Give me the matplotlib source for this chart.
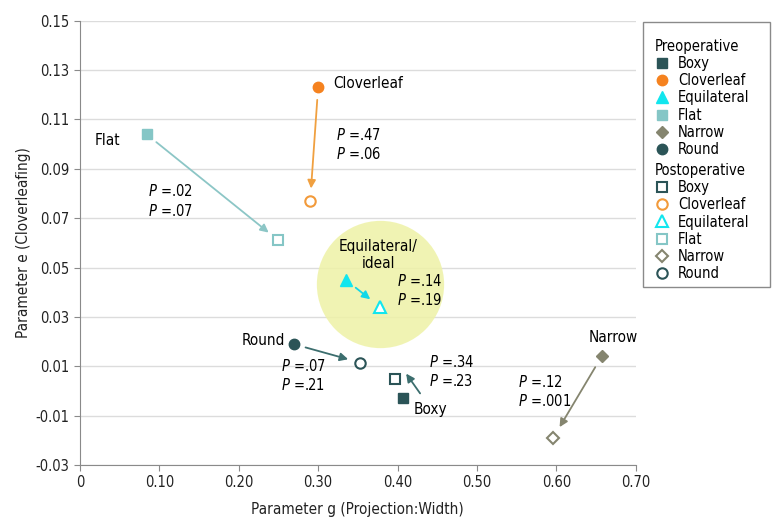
import matplotlib.pyplot as plt
from matplotlib.lines import Line2D
from matplotlib.patches import Rectangle
from matplotlib.transforms import offset_copy

plt.rcParams['font.family'] = ['DejaVu Sans']
plt.rcParams['font.stretch'] = 'condensed'
plt.rcParams['mathtext.fontset'] = 'custom'
plt.rcParams['mathtext.it'] = 'DejaVu Sans:style=oblique:stretch=condensed'
plt.rcParams['mathtext.rm'] = 'DejaVu Sans:stretch=condensed'

categories = ['Boxy', 'Cloverleaf', 'Equilateral', 'Flat', 'Narrow', 'Round']
pre_g = [0.407, 0.300, 0.335, 0.084, 0.657, 0.269]
pre_e = [-0.003, 0.123, 0.045, 0.104, 0.014, 0.019]
post_g = [0.397, 0.290, 0.378, 0.250, 0.596, 0.353]
post_e = [0.005, 0.077, 0.034, 0.061, -0.019, 0.0115]
p_pre = ['.34', '.47', '.14', '.02', '.12', '.07']
p_post = ['.23', '.06', '.19', '.07', '.001', '.21']

x_ticks = [0, 0.10, 0.20, 0.30, 0.40, 0.50, 0.60, 0.70]
x_ticklabels = ['0', '0.10', '0.20', '0.30', '0.40', '0.50', '0.60', '0.70']
y_ticks = [-0.03, -0.01, 0.01, 0.03, 0.05, 0.07, 0.09, 0.11, 0.13, 0.15]

colors = {'Boxy': '#2b5457', 'Cloverleaf': '#f5821f', 'Equilateral': '#12e6ee',
          'Flat': '#85c6c6', 'Narrow': '#85856f', 'Round': '#2b5457'}
post_colors = {'Boxy': '#2b5457', 'Cloverleaf': '#f29a3a', 'Equilateral': '#12e6ee',
               'Flat': '#85c6c6', 'Narrow': '#85856f', 'Round': '#2b5457'}
arrow_colors = {'Boxy': '#3c6e6e', 'Cloverleaf': '#f0a040', 'Equilateral': '#12d8e8',
                'Flat': '#8cc6c6', 'Narrow': '#85856f', 'Round': '#3c6e6e'}
markers = {'Boxy': 's', 'Cloverleaf': 'o', 'Equilateral': '^',
           'Flat': 's', 'Narrow': 'D', 'Round': 'o'}
sizes = {'s': 7.5, 'o': 7.5, '^': 8.5, 'D': 6.5}

# label placement (data coords) and alignment
name_pos = {'Boxy': (0.441, -0.0076, 'center'), 'Cloverleaf': (0.319, 0.1245, 'left'),
            'Flat': (0.035, 0.1013, 'center'), 'Narrow': (0.671, 0.0215, 'center'),
            'Round': (0.231, 0.0203, 'center')}
p_pos = {'Boxy': (0.4397, 0.0078), 'Cloverleaf': (0.323, 0.100),
         'Equilateral': (0.3995, 0.0406), 'Flat': (0.0854, 0.077),
         'Narrow': (0.5515, -0.0003), 'Round': (0.2538, 0.0062)}

fig = plt.figure(figsize=(7.83, 5.27), dpi=100)
ax = fig.add_axes([0.102, 0.1176, 0.71, 0.843])

# highlighted "ideal" zone
ax.scatter([0.378], [0.0434], s=8400, color='#eef2a6', alpha=0.85, zorder=1, linewidths=0)

for i, c in enumerate(categories):
    if c == 'Boxy':
        # short arrow drawn beside the markers, as in the original
        ax.annotate('', xy=(post_g[i], post_e[i]), xytext=(pre_g[i], pre_e[i]),
                    xycoords=offset_copy(ax.transData, fig, x=11, y=5, units='dots'),
                    textcoords=offset_copy(ax.transData, fig, x=17, y=5, units='dots'),
                    arrowprops=dict(arrowstyle='-|>', color=arrow_colors[c], lw=1.3,
                                    mutation_scale=12, shrinkA=0, shrinkB=0), zorder=3)
    else:
        ax.annotate('', xy=(post_g[i], post_e[i]), xytext=(pre_g[i], pre_e[i]),
                    arrowprops=dict(arrowstyle='-|>', color=arrow_colors[c], lw=1.3,
                                    mutation_scale=12, shrinkA=9, shrinkB=9), zorder=3)
    ms = sizes[markers[c]]
    ax.plot(pre_g[i], pre_e[i], marker=markers[c], ms=ms, color=colors[c],
            mec=colors[c], ls='none', zorder=4)
    ax.plot(post_g[i], post_e[i], marker=markers[c], ms=ms, mfc='white',
            mec=post_colors[c], mew=1.5, ls='none', zorder=4)
    px, py = p_pos[c]
    ax.text(px, py, '$P$ =' + p_pre[i] + '\n$P$ =' + p_post[i], fontsize=10.5,
            ha='left', va='center', linespacing=1.25, zorder=5)

for c, (nx, ny, ha) in name_pos.items():
    ax.text(nx, ny, c, fontsize=11, ha=ha, va='center', zorder=5)
ax.text(0.3756, 0.0551, 'Equilateral/\nideal', fontsize=11, ha='center',
        va='center', linespacing=1.15, zorder=5)

ax.set_xlim(0, 0.70)
ax.set_ylim(-0.03, 0.15)
ax.set_xticks(x_ticks)
ax.set_xticklabels(x_ticklabels)
ax.set_yticks(y_ticks)
ax.set_yticklabels(['%.2f' % v for v in y_ticks])
ax.yaxis.grid(True, color='#dcdcdc', lw=1)
ax.set_axisbelow(True)
for s in ['top', 'right']:
    ax.spines[s].set_visible(False)
for s in ['left', 'bottom']:
    ax.spines[s].set_color('#8a8a8a')
ax.tick_params(colors='#8a8a8a', labelcolor='#222222', labelsize=10.5, length=4)
ax.set_xlabel('Parameter g (Projection:Width)', fontsize=11, color='#222222', labelpad=8)
ax.set_ylabel('Parameter e (Cloverleafing)', fontsize=11, color='#222222', labelpad=3)

pre_handles = [Line2D([], [], marker=markers[c], ls='none', color=colors[c],
                      ms=sizes[markers[c]]) for c in categories]
post_handles = [Line2D([], [], marker=markers[c], ls='none', mfc='white',
                       mec=post_colors[c], mew=1.5,
                       ms=sizes[markers[c]]) for c in categories]

leg_kw = dict(frameon=False, fontsize=10.5, title_fontsize=10.5, alignment='left',
              handlelength=1.0, handletextpad=0.6, labelspacing=0.15,
              borderpad=0.2, loc='upper left')
leg1 = fig.legend(pre_handles, categories, title='Preoperative',
                  bbox_to_anchor=(0.823, 0.9455), **leg_kw)
leg2 = fig.legend(post_handles, categories, title='Postoperative',
                  bbox_to_anchor=(0.823, 0.710), **leg_kw)
fig.patches.append(Rectangle((0.821, 0.455), 0.163, 0.503, transform=fig.transFigure,
                             fill=False, edgecolor='#8a8a8a', lw=1))

fig.savefig('out.png', dpi=100)
